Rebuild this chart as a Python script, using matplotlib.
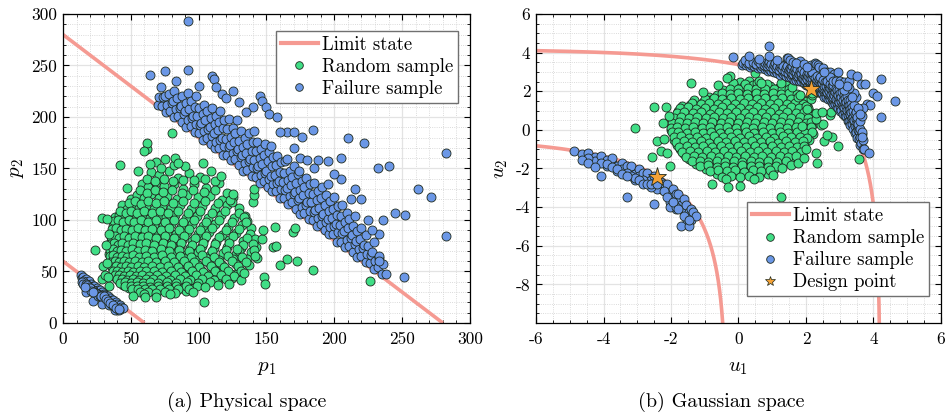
import numpy as np
import matplotlib
matplotlib.use("Agg")
import matplotlib.pyplot as plt
from matplotlib.lines import Line2D
from matplotlib.ticker import MultipleLocator

plt.rcParams["font.family"] = "serif"
plt.rcParams["font.serif"] = ["cmr10", "DejaVu Serif"]
plt.rcParams["mathtext.fontset"] = "cm"
plt.rcParams["axes.unicode_minus"] = False
plt.rcParams["font.size"] = 12.5

# lognormal marginals: p = exp(MU + SIGMA * u)
MU = 4.214
SIGMA = 0.3386

# limit states p1 + p2 = c
limit_sums = [280, 60]

# random sample, read in Gaussian space (u1, u2)
random_u = [
    (-0.27, 2.7), (0.05, 2.48), (0.31, 2.52),
    (-0.12, 2.28), (0.14, 2.22), (0.42, 2.3), (0.66, 2.17), (0.93, 2.26), (1.18, 2.19), (1.41, 2.3),
    (-0.46, 2.04), (-0.21, 1.97), (0.03, 2.07), (0.29, 1.99), (0.55, 2.05), (0.8, 1.94), (1.05, 2.03), (1.31, 1.96), (1.56, 2.06),
    (-0.88, 1.71), (-0.63, 1.79), (-0.37, 1.72), (-0.12, 1.81), (0.12, 1.73), (0.38, 1.78), (0.64, 1.7), (0.9, 1.8), (1.14, 1.74), (1.39, 1.77), (1.62, 1.69), (1.83, 1.76),
    (-1.31, 1.55), (-1.05, 1.46), (-0.8, 1.53), (-0.55, 1.47), (-0.29, 1.54), (-0.04, 1.45), (0.22, 1.52), (0.47, 1.48), (0.73, 1.56), (0.98, 1.46), (1.23, 1.53), (1.49, 1.47), (1.72, 1.55), (1.93, 1.48),
    (-1.68, 1.24), (-1.44, 1.3), (-1.19, 1.21), (-0.93, 1.28), (-0.68, 1.22), (-0.42, 1.29), (-0.17, 1.2), (0.09, 1.27), (0.35, 1.23), (0.6, 1.3), (0.86, 1.21), (1.11, 1.27), (1.36, 1.22), (1.61, 1.29), (1.84, 1.2), (2.03, 1.26),
    (-1.79, 0.99), (-1.55, 1.05), (-1.3, 0.96), (-1.04, 1.03), (-0.79, 0.97), (-0.53, 1.04), (-0.28, 0.95), (-0.02, 1.02), (0.24, 0.98), (0.49, 1.05), (0.75, 0.96), (1.0, 1.03), (1.25, 0.97), (1.5, 1.04), (1.74, 0.95), (1.98, 1.01), (2.12, 0.93),
    (-1.86, 0.74), (-1.67, 0.8), (-1.42, 0.71), (-1.17, 0.78), (-0.91, 0.72), (-0.66, 0.79), (-0.4, 0.7), (-0.15, 0.77), (0.11, 0.73), (0.37, 0.8), (0.62, 0.71), (0.88, 0.78), (1.13, 0.72), (1.38, 0.79), (1.63, 0.7), (1.87, 0.77), (2.1, 0.72),
    (-1.93, 0.49), (-1.73, 0.55), (-1.52, 0.46), (-1.28, 0.53), (-1.03, 0.47), (-0.78, 0.54), (-0.52, 0.45), (-0.27, 0.52), (-0.01, 0.48), (0.25, 0.55), (0.5, 0.46), (0.76, 0.53), (1.01, 0.47), (1.26, 0.54), (1.51, 0.45), (1.76, 0.52), (1.99, 0.48), (2.18, 0.55),
    (-1.98, 0.24), (-1.79, 0.3), (-1.55, 0.21), (-1.31, 0.28), (-1.06, 0.22), (-0.81, 0.29), (-0.56, 0.2), (-0.3, 0.27), (-0.05, 0.23), (0.21, 0.3), (0.46, 0.21), (0.72, 0.28), (0.97, 0.22), (1.22, 0.29), (1.47, 0.2), (1.72, 0.27), (1.96, 0.23), (2.19, 0.26),
    (-2.01, -0.01), (-1.77, 0.05), (-1.63, -0.04), (-1.39, 0.03), (-1.14, -0.03), (-0.89, 0.04), (-0.63, -0.05), (-0.38, 0.02), (-0.13, -0.02), (0.13, 0.05), (0.38, -0.04), (0.64, 0.03), (0.89, -0.03), (1.14, 0.04), (1.39, -0.05), (1.64, 0.02), (1.88, -0.02), (2.12, 0.04),
    (-1.92, -0.26), (-1.71, -0.2), (-1.47, -0.29), (-1.22, -0.22), (-0.97, -0.28), (-0.71, -0.21), (-0.46, -0.3), (-0.2, -0.23), (0.05, -0.27), (0.31, -0.2), (0.56, -0.29), (0.82, -0.22), (1.07, -0.28), (1.32, -0.21), (1.57, -0.3), (1.82, -0.23), (2.05, -0.27), (2.21, -0.2),
    (-1.9, -0.51), (-1.66, -0.45), (-1.41, -0.54), (-1.16, -0.47), (-0.91, -0.53), (-0.65, -0.46), (-0.4, -0.55), (-0.14, -0.48), (0.11, -0.52), (0.37, -0.45), (0.62, -0.54), (0.88, -0.47), (1.13, -0.53), (1.38, -0.46), (1.63, -0.55), (1.87, -0.48), (2.08, -0.52),
    (-1.82, -0.76), (-1.58, -0.7), (-1.33, -0.79), (-1.08, -0.72), (-0.83, -0.78), (-0.57, -0.71), (-0.32, -0.8), (-0.06, -0.73), (0.19, -0.77), (0.45, -0.7), (0.7, -0.79), (0.96, -0.72), (1.21, -0.78), (1.46, -0.71), (1.7, -0.8), (1.93, -0.73),
    (-1.72, -1.01), (-1.49, -0.95), (-1.24, -1.04), (-0.99, -0.97), (-0.74, -1.03), (-0.48, -0.96), (-0.23, -1.05), (0.03, -0.98), (0.28, -1.02), (0.54, -0.95), (0.79, -1.04), (1.05, -0.97), (1.3, -1.03), (1.55, -0.96), (1.78, -1.05), (1.9, -0.98),
    (-1.61, -1.26), (-1.38, -1.2), (-1.13, -1.29), (-0.88, -1.22), (-0.63, -1.28), (-0.37, -1.21), (-0.12, -1.3), (0.14, -1.23), (0.39, -1.27), (0.65, -1.2), (0.9, -1.29), (1.16, -1.22), (1.41, -1.28), (1.64, -1.21), (1.8, -1.3),
    (-1.48, -1.51), (-1.25, -1.45), (-1.0, -1.54), (-0.75, -1.47), (-0.5, -1.53), (-0.24, -1.46), (0.01, -1.55), (0.27, -1.48), (0.52, -1.52), (0.78, -1.45), (1.03, -1.54), (1.29, -1.47), (1.53, -1.53),
    (-1.27, -1.76), (-1.03, -1.7), (-0.78, -1.79), (-0.53, -1.72), (-0.28, -1.78), (-0.02, -1.71), (0.23, -1.8), (0.49, -1.73), (0.74, -1.77), (1.0, -1.7), (1.25, -1.79),
    (-0.97, -2.01), (-0.72, -1.95), (-0.47, -2.04), (-0.21, -1.97), (0.04, -2.03), (0.3, -1.96), (0.55, -2.05), (0.81, -1.98), (1.04, -2.02),
    (-0.64, -2.26), (-0.38, -2.2), (-0.13, -2.29), (0.13, -2.22), (0.38, -2.28), (0.64, -2.21), (0.86, -2.3),
    (-0.15, 2.44), (0.18, 2.37), (0.55, 2.41), (0.85, 2.4),
    (-0.25, 2.14), (0.0, 2.1), (0.27, 2.15), (0.53, 2.11), (0.79, 2.13), (1.05, 2.12), (1.3, 2.14), (1.5, 2.1),
    (-0.5, 1.9), (-0.25, 1.85), (0.0, 1.91), (0.25, 1.86), (0.51, 1.9), (0.77, 1.84), (1.02, 1.9), (1.27, 1.86), (1.5, 1.92), (1.72, 1.85),
    (-0.98, 1.6), (-0.73, 1.65), (-0.48, 1.59), (-0.23, 1.66), (0.03, 1.61), (0.28, 1.65), (0.54, 1.6), (0.8, 1.66), (1.05, 1.6), (1.3, 1.65), (1.55, 1.61), (1.8, 1.64),
    (-1.38, 1.41), (-1.12, 1.35), (-0.87, 1.4), (-0.62, 1.34), (-0.36, 1.41), (-0.1, 1.36), (0.15, 1.4), (0.41, 1.35), (0.67, 1.41), (0.92, 1.35), (1.18, 1.4), (1.43, 1.34), (1.68, 1.41), (1.92, 1.36),
    (-1.74, 1.12), (-1.5, 1.16), (-1.25, 1.1), (-0.99, 1.15), (-0.74, 1.09), (-0.48, 1.16), (-0.22, 1.11), (0.04, 1.15), (0.3, 1.1), (0.55, 1.16), (0.8, 1.1), (1.06, 1.15), (1.31, 1.1), (1.56, 1.16), (1.8, 1.11), (2.05, 1.14),
    (-1.83, 0.87), (-1.6, 0.91), (-1.35, 0.85), (-1.1, 0.9), (-0.85, 0.84), (-0.59, 0.91), (-0.33, 0.86), (-0.08, 0.9), (0.18, 0.85), (0.43, 0.91), (0.69, 0.85), (0.94, 0.9), (1.19, 0.84), (1.44, 0.91), (1.69, 0.86), (1.93, 0.9),
    (-1.9, 0.62), (-1.7, 0.66), (-1.47, 0.6), (-1.22, 0.65), (-0.97, 0.59), (-0.72, 0.66), (-0.46, 0.61), (-0.21, 0.65), (0.05, 0.6), (0.31, 0.66), (0.56, 0.6), (0.82, 0.65), (1.07, 0.59), (1.32, 0.66), (1.57, 0.61), (1.82, 0.65), (2.05, 0.6),
    (-1.96, 0.37), (-1.76, 0.41), (-1.53, 0.35), (-1.29, 0.4), (-1.04, 0.34), (-0.79, 0.41), (-0.53, 0.36), (-0.28, 0.4), (-0.02, 0.35), (0.24, 0.41), (0.49, 0.35), (0.75, 0.4), (1.0, 0.34), (1.25, 0.41), (1.5, 0.36), (1.75, 0.4), (1.99, 0.35), (2.15, 0.39),
    (-2.0, 0.12), (-1.82, 0.16), (-1.58, 0.1), (-1.34, 0.15), (-1.09, 0.09), (-0.84, 0.16), (-0.58, 0.11), (-0.33, 0.15), (-0.08, 0.1), (0.18, 0.16), (0.43, 0.1), (0.69, 0.15), (0.94, 0.09), (1.19, 0.16), (1.44, 0.11), (1.69, 0.15), (1.93, 0.1), (2.16, 0.14),
    (-1.96, -0.13), (-1.78, -0.09), (-1.54, -0.15), (-1.3, -0.1), (-1.05, -0.16), (-0.8, -0.09), (-0.54, -0.14), (-0.29, -0.1), (-0.04, -0.15), (0.22, -0.09), (0.47, -0.15), (0.73, -0.1), (0.98, -0.16), (1.23, -0.09), (1.48, -0.14), (1.73, -0.1), (1.97, -0.15), (2.18, -0.11),
    (-1.9, -0.38), (-1.7, -0.34), (-1.47, -0.4), (-1.22, -0.35), (-0.97, -0.41), (-0.72, -0.34), (-0.46, -0.39), (-0.21, -0.35), (0.05, -0.4), (0.3, -0.34), (0.56, -0.4), (0.81, -0.35), (1.06, -0.41), (1.31, -0.34), (1.56, -0.39), (1.81, -0.35), (2.04, -0.4),
    (-1.85, -0.63), (-1.62, -0.59), (-1.37, -0.65), (-1.12, -0.6), (-0.87, -0.66), (-0.61, -0.59), (-0.36, -0.64), (-0.1, -0.6), (0.15, -0.65), (0.41, -0.59), (0.66, -0.65), (0.92, -0.6), (1.17, -0.66), (1.42, -0.59), (1.67, -0.64), (1.91, -0.6),
    (-1.77, -0.88), (-1.54, -0.84), (-1.29, -0.9), (-1.04, -0.85), (-0.79, -0.91), (-0.53, -0.84), (-0.28, -0.89), (-0.02, -0.85), (0.23, -0.9), (0.49, -0.84), (0.74, -0.9), (1.0, -0.85), (1.25, -0.91), (1.5, -0.84), (1.74, -0.89), (1.95, -0.85),
    (-1.67, -1.13), (-1.44, -1.09), (-1.19, -1.15), (-0.94, -1.1), (-0.69, -1.16), (-0.43, -1.09), (-0.18, -1.14), (0.08, -1.1), (0.33, -1.15), (0.59, -1.09), (0.84, -1.15), (1.1, -1.1), (1.35, -1.16), (1.6, -1.09), (1.84, -1.14),
    (-1.55, -1.38), (-1.32, -1.34), (-1.07, -1.4), (-0.82, -1.35), (-0.57, -1.41), (-0.31, -1.34), (-0.06, -1.39), (0.2, -1.35), (0.45, -1.4), (0.71, -1.34), (0.96, -1.4), (1.22, -1.35), (1.47, -1.41), (1.7, -1.34),
    (-1.38, -1.63), (-1.15, -1.59), (-0.9, -1.65), (-0.65, -1.6), (-0.4, -1.66), (-0.14, -1.59), (0.11, -1.64), (0.37, -1.6), (0.62, -1.65), (0.88, -1.59), (1.13, -1.65), (1.4, -1.6),
    (-1.15, -1.88), (-0.9, -1.84), (-0.65, -1.9), (-0.4, -1.85), (-0.15, -1.91), (0.11, -1.84), (0.36, -1.89), (0.62, -1.85), (0.87, -1.9), (1.12, -1.85),
    (-0.85, -2.13), (-0.6, -2.09), (-0.34, -2.15), (-0.09, -2.1), (0.17, -2.16), (0.42, -2.09), (0.68, -2.14), (0.93, -2.1),
    (-0.5, -2.42), (-0.22, -2.38), (0.05, -2.44), (0.3, -2.4), (0.6, -2.45),
    (-3.07, 0.12), (-2.49, 1.2), (-2.16, 1.18), (-2.05, 0.72), (-2.25, 0.35), (-2.42, -0.6), (-2.2, -0.45),
    (-2.56, -1.38), (-2.3, -1.12), (-2.03, -1.85), (-2.12, -1.2), (-1.4, 2.42), (-0.79, -2.81),
    (-0.37, -2.54), (-0.32, -2.95), (0.05, -2.9), (0.45, -2.55), (1.03, -2.35), (1.26, -3.5), (1.3, -1.95),
    (1.55, -1.8), (1.75, -1.7), (1.95, -1.45), (2.0, -1.0), (2.31, -1.2), (2.33, -1.7), (2.54, -0.56),
    (2.76, -0.35), (2.96, -0.83), (2.63, -0.26), (3.57, -1.5), (2.45, 0.27), (2.49, 0.3), (2.29, 0.57),
    (2.72, 0.78), (2.74, 0.91), (2.3, 0.85), (2.0, 1.24), (2.04, 1.1), (1.77, 1.69), (1.83, 1.81),
    (2.15, 1.62), (2.17, 1.79), (2.17, 1.93), (1.6, 2.2), (1.25, 2.45), (0.6, 2.55), (0.5, 2.97),
    (-0.26, 2.81), (-0.35, 2.67), (0.68, 2.45), (1.89, 0.19), (2.48, 0.95), (-1.05, 1.95), (-0.6, 2.3),
]

# failure sample, read in physical space (p1, p2)
failure_p = [
    (70, 212), (71, 219), (73, 211), (74, 219), (72, 229), (76, 205), (77, 212), (75, 220),
    (79, 206), (80, 214), (78, 222), (82, 200), (83, 208), (81, 216), (82, 225), (85, 201),
    (86, 209), (84, 218), (88, 195), (89, 203), (87, 211), (88, 220), (91, 190), (92, 197),
    (90, 206), (91, 214), (92, 223), (94, 191), (95, 199), (93, 208), (94, 216), (97, 185),
    (98, 193), (96, 201), (97, 210), (98, 220), (100, 184), (101, 192), (99, 201), (100, 209),
    (103, 178), (104, 186), (102, 194), (103, 203), (104, 212), (106, 180), (107, 188), (105, 197),
    (106, 206), (109, 174), (110, 182), (108, 190), (109, 199), (110, 209), (112, 170), (113, 176),
    (111, 184), (112, 193), (113, 201), (115, 170), (116, 178), (114, 187), (115, 195), (116, 206),
    (118, 163), (119, 172), (117, 180), (118, 189), (119, 197), (121, 163), (122, 171), (120, 179),
    (121, 188), (122, 198), (124, 158), (125, 165), (123, 173), (124, 181), (125, 189), (127, 159),
    (128, 167), (126, 176), (127, 184), (128, 197), (130, 153), (131, 161), (129, 169), (130, 177),
    (131, 186), (133, 148), (134, 155), (132, 163), (133, 171), (134, 180), (136, 149), (137, 157),
    (135, 165), (136, 174), (137, 184), (139, 143), (140, 151), (138, 159), (139, 167), (140, 176),
    (142, 142), (143, 150), (141, 158), (142, 167), (143, 176), (141, 186), (145, 136), (146, 144),
    (144, 152), (145, 160), (146, 169), (148, 138), (149, 146), (147, 154), (148, 163), (149, 174),
    (151, 132), (152, 140), (150, 148), (151, 157), (152, 166), (154, 128), (155, 135), (153, 143),
    (154, 152), (155, 161), (153, 172), (157, 128), (158, 136), (156, 144), (157, 153), (158, 162),
    (160, 121), (161, 130), (159, 138), (160, 147), (161, 156), (163, 121), (164, 129), (162, 137),
    (163, 146), (164, 157), (166, 116), (167, 123), (165, 131), (166, 139), (167, 148), (165, 159),
    (169, 117), (170, 125), (168, 134), (169, 142), (170, 152), (172, 111), (173, 119), (171, 127),
    (172, 136), (173, 145), (175, 106), (176, 113), (174, 121), (175, 129), (176, 138), (174, 148),
    (178, 107), (179, 115), (177, 124), (178, 132), (179, 141), (181, 101), (182, 109), (180, 117),
    (181, 126), (182, 135), (184, 100), (185, 108), (183, 117), (184, 125), (185, 136), (187, 94),
    (188, 102), (186, 110), (187, 119), (188, 128), (190, 96), (191, 104), (189, 112), (190, 121),
    (191, 132), (193, 90), (194, 98), (192, 106), (193, 115), (194, 124), (196, 86), (197, 93),
    (195, 101), (196, 109), (197, 118), (199, 86), (200, 94), (198, 102), (199, 111), (200, 122),
    (202, 79), (203, 88), (201, 96), (202, 105), (203, 114), (205, 79), (206, 87), (204, 95),
    (205, 104), (206, 115), (208, 74), (209, 81), (207, 89), (208, 98), (209, 107), (211, 75),
    (212, 83), (210, 92), (211, 101), (214, 69), (215, 77), (213, 85), (214, 94), (215, 104),
    (217, 64), (218, 72), (216, 80), (217, 89), (220, 65), (221, 73), (219, 82), (220, 92),
    (223, 59), (224, 67), (222, 76), (223, 85), (226, 58), (227, 66), (225, 75), (229, 52),
    (230, 60), (228, 69), (229, 79), (232, 54), (233, 63), (235, 48), (236, 57),
    (64, 241), (75, 245), (92, 246), (92, 293), (110, 240), (111, 237), (113, 229), (117, 222),
    (125, 225), (120, 218), (130, 215), (140, 210), (145, 220), (147, 216), (150, 210), (152, 203),
    (158, 200), (165, 185), (170, 185), (176, 181), (184, 187), (170, 170), (175, 160), (180, 158),
    (188, 158), (195, 157), (205, 160), (210, 180), (222, 175), (232, 150), (240, 152), (262, 130),
    (271, 122), (282, 165), (282, 84), (245, 107), (252, 105), (236, 100), (233, 86), (233, 65),
    (233, 60), (238, 48), (251, 45), (220, 120), (215, 130), (205, 140), (195, 135), (225, 100),
    (228, 90), (212, 120), (200, 145), (185, 150), (160, 185), (135, 205), (100, 230), (83, 235),
    (326, 112),
    (13, 47), (14, 44), (15, 45), (16, 42), (16, 39), (17, 43), (18, 40), (19, 38), (19, 41),
    (20, 36), (21, 38), (21, 34), (22, 36), (23, 33), (23, 36), (24, 31), (25, 34), (25, 30),
    (26, 32), (27, 29), (27, 32), (28, 28), (29, 30), (29, 26), (30, 28), (31, 27), (31, 24),
    (32, 26), (33, 23), (33, 26), (34, 22), (35, 24), (35, 21), (36, 22), (37, 19), (37, 22),
    (38, 18), (39, 20), (39, 17), (40, 18), (41, 16), (42, 17), (42, 14), (43, 16), (44, 15),
    (40, 13), (38, 12.5), (41, 12.5), (30, 24), (26, 28), (22, 32), (18, 36), (34, 19), (24, 28),
    (20, 33), (15, 41), (36, 17), (28, 25), (17, 30), (22, 21), (29, 18.4), (34, 17.4), (36, 17.4),
    (14, 40), (15, 38), (17, 38), (18, 37), (19, 35), (20, 34), (21, 31), (23, 30), (24, 29),
    (25, 28), (26, 26), (27, 26), (28, 26), (30, 26), (32, 23), (33, 21), (35, 19), (37, 17),
    (39, 15), (41, 14), (16, 35), (22, 30),
]

design_u = [(2.15, 2.14), (-2.40, -2.42)]

GREEN = "#40de86"
BLUE = "#6b97e6"
LIMIT = "#f59a92"
STAR = "#f5a236"
EDGE = "#1f2a1f"
MS = 42


def to_physical(u):
    return np.exp(MU + SIGMA * np.asarray(u, dtype=float))


def to_gauss(p):
    return (np.log(np.asarray(p, dtype=float)) - MU) / SIGMA


def style(ax, xmaj, xmin, ymaj, ymin):
    ax.xaxis.set_major_locator(MultipleLocator(xmaj))
    ax.xaxis.set_minor_locator(MultipleLocator(xmin))
    ax.yaxis.set_major_locator(MultipleLocator(ymaj))
    ax.yaxis.set_minor_locator(MultipleLocator(ymin))
    ax.tick_params(which="both", direction="in", top=True, right=True, labelsize=12.5)
    ax.tick_params(which="major", length=4, width=0.8)
    ax.tick_params(which="minor", length=2, width=0.6)
    ax.tick_params(axis="x", which="major", pad=6)
    ax.tick_params(axis="y", which="major", pad=4)
    ax.grid(which="major", color="#e3e3e3", lw=0.9)
    ax.grid(which="minor", color="#cfcfcf", lw=0.6, ls=":")
    ax.set_axisbelow(True)
    for s in ax.spines.values():
        s.set_linewidth(0.9)


rnd_u = np.array(random_u)
rnd_p = to_physical(rnd_u)
fail_p = np.array(failure_p, dtype=float)
fail_u = to_gauss(fail_p)
des = np.array(design_u)

fig = plt.figure(figsize=(9.46, 4.15), dpi=100)
ax1 = fig.add_axes([0.0666, 0.2217, 0.4302, 0.7446])
ax2 = fig.add_axes([0.5666, 0.2217, 0.4281, 0.7446])

# physical space
for c in limit_sums:
    ax1.plot([0, c], [c, 0], color=LIMIT, lw=2.6, solid_capstyle="butt", zorder=2)
ax1.scatter(rnd_p[:, 0], rnd_p[:, 1], s=MS, c=GREEN, edgecolors=EDGE, linewidths=0.6, zorder=3)
ax1.scatter(fail_p[:, 0], fail_p[:, 1], s=MS, c=BLUE, edgecolors=EDGE, linewidths=0.6, zorder=4)
ax1.set_xlim(0, 300)
ax1.set_ylim(0, 300)
style(ax1, 50, 10, 50, 10)
ax1.set_xlabel("$p_1$", fontsize=15, labelpad=9)
ax1.set_ylabel("$p_2$", fontsize=15, labelpad=4)

# gaussian space
t = np.linspace(-9, 9, 3000)
for c in limit_sums:
    p1 = c / (1 + np.exp(-t))
    ax2.plot(to_gauss(p1), to_gauss(c - p1), color=LIMIT, lw=2.6, zorder=2)
ax2.scatter(rnd_u[:, 0], rnd_u[:, 1], s=MS, c=GREEN, edgecolors=EDGE, linewidths=0.6, zorder=3)
ax2.scatter(fail_u[:, 0], fail_u[:, 1], s=MS, c=BLUE, edgecolors=EDGE, linewidths=0.6, zorder=4)
ax2.plot(des[:, 0], des[:, 1], ls="none", marker="*", ms=14, mfc=STAR, mec=EDGE,
         mew=0.6, zorder=5)
ax2.set_xlim(-6, 6)
ax2.set_ylim(-10, 6)
style(ax2, 2, 0.5, 2, 0.5)
ax2.set_yticks([-8, -6, -4, -2, 0, 2, 4, 6])
ax2.set_xlabel("$u_1$", fontsize=15, labelpad=9)
ax2.set_ylabel("$u_2$", fontsize=15, labelpad=4)

h_lim = Line2D([], [], color=LIMIT, lw=3)
h_rnd = Line2D([], [], ls="none", marker="o", ms=5.5, mfc=GREEN, mec=EDGE, mew=0.6)
h_fail = Line2D([], [], ls="none", marker="o", ms=5.5, mfc=BLUE, mec=EDGE, mew=0.6)
h_des = Line2D([], [], ls="none", marker="*", ms=7, mfc=STAR, mec=EDGE, mew=0.5)

leg_kw = dict(fontsize=13.5, fancybox=False, framealpha=1, edgecolor="#707070",
              handlelength=2.0, borderaxespad=0, borderpad=0.25, labelspacing=0.22,
              handletextpad=0.2)
l1 = ax1.legend([h_lim, h_rnd, h_fail], ["Limit state", "Random sample", "Failure sample"],
                loc="upper right", bbox_to_anchor=(0.97, 0.945), **leg_kw)
l2 = ax2.legend([h_lim, h_rnd, h_fail, h_des],
                ["Limit state", "Random sample", "Failure sample", "Design point"],
                loc="lower right", bbox_to_anchor=(0.97, 0.087), **leg_kw)
for l in (l1, l2):
    l.get_frame().set_linewidth(1.0)
    l.set_zorder(10)

fig.text(247 / 946, 0.031, "(a) Physical space", ha="center", va="center", fontsize=14.5)
fig.text(721 / 946, 0.031, "(b) Gaussian space", ha="center", va="center", fontsize=14.5)

fig.savefig("out.png", dpi=100)
